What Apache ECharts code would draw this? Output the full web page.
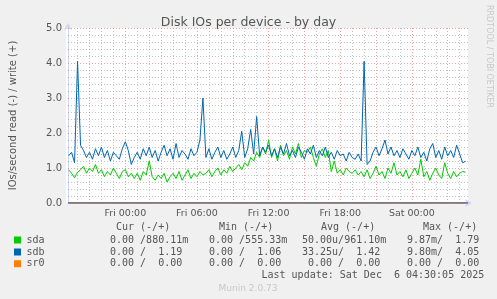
<!DOCTYPE html>
<html><head><meta charset="utf-8">
<script src="https://cdn.jsdelivr.net/npm/echarts@6/dist/echarts.min.js"></script>
<style>html,body{margin:0;padding:0;background:#f0f0f0}#c{width:497px;height:299px}</style>
</head><body><div id="c"></div>
<script>
// time axis: hours relative to Fri 00:00, 15-minute samples
const startHour = -4.75;
const stepHour = 0.25;
const xTickValues = [0, 6, 12, 18, 24];
const xTickLabels = ['Fri 00:00', 'Fri 06:00', 'Fri 12:00', 'Fri 18:00', 'Sat 00:00'];
const yTickValues = [0, 1, 2, 3, 4, 5];

// sdb write IOs/s
const sdbWrite = [
 1.35,1.45,1.15,4.05,1.65,1.5,1.3,1.45,1.25,1.55,1.35,
 1.6,1.3,1.5,1.2,1.45,1.35,1.25,1.55,1.75,1.5,1.1,
 1.3,1.45,1.25,1.55,1.35,1.6,1.3,1.5,1.2,1.45,1.65,
 1.35,1.55,1.25,1.7,1.3,1.5,1.4,1.25,1.55,1.35,1.45,1.8,
 3.0,
 1.3,1.55,1.25,1.45,1.6,1.3,1.5,1.25,1.4,1.6,1.3,1.5,
 2.05,1.3,1.55,2.1,1.4,2.47,1.35,1.6,
 1.45,1.65,1.35,1.55,1.3,1.6,1.4,1.7,1.35,1.5,1.3,1.6,1.45,1.25,1.55,
 1.4,1.65,1.3,1.5,1.35,1.6,1.3,1.45,1.25,1.5,1.35,1.4,1.2,1.45,1.3,1.25,1.4,1.2,
 4.05,
 1.1,1.2,1.45,1.6,1.35,1.55,1.8,1.4,1.6,
 1.35,1.5,1.3,1.55,1.4,1.25,1.5,1.35,1.6,1.3,1.45,1.2,1.55,1.7,1.3,1.5,1.25,1.6,1.35,1.5,1.3,1.65,1.4,1.15,1.19
];
// sda write IOs/s
const sdaWrite = [
 0.95,0.85,0.72,0.88,0.95,1.05,0.85,1.0,0.9,1.1,0.85,
 0.95,0.75,0.9,0.8,1.0,0.85,0.7,0.9,0.95,0.75,0.85,
 0.7,0.85,0.65,0.9,0.8,1.2,0.75,0.65,0.8,0.7,0.85,
 0.6,0.75,0.85,0.7,0.9,0.65,0.8,0.95,0.7,0.85,0.75,0.9,0.8,
 0.85,0.95,0.75,0.9,1.0,0.8,0.95,0.85,1.05,0.9,1.0,1.1,0.95,
 1.15,1.05,1.3,1.2,1.45,1.3,1.6,
 1.4,1.79,1.3,1.55,1.2,1.65,1.35,1.5,1.25,1.6,1.4,1.7,1.3,1.5,1.45,1.6,1.3,1.05,1.4,1.55,1.3,1.5,0.9,
 1.2,0.85,0.95,0.8,1.0,0.9,0.85,0.95,0.8,0.9,
 0.75,0.95,0.7,0.85,1.05,0.8,0.9,0.7,1.0,0.85,
 1.15,0.8,0.9,0.75,0.95,0.7,0.85,1.0,0.8,1.25,0.75,0.9,0.65,0.85,1.0,0.8,0.7,1.15,0.85,0.7,0.9,0.75,0.85,0.9,0.88
];
// sr0 write IOs/s
const sr0Write = sdaWrite.map(() => 0);

const legendRows = [
  {name: 'sda', color: '#00cc00', cur: '0.00 /880.11m', min: '0.00 /555.33m', avg: '50.00u/961.10m', max: '9.87m/  1.79'},
  {name: 'sdb', color: '#0066b3', cur: '0.00 /  1.19', min: '0.00 /  1.06', avg: '33.25u/  1.42', max: '9.80m/  4.05'},
  {name: 'sr0', color: '#ff8000', cur: '0.00 /  0.00', min: '0.00 /  0.00', avg: '0.00 /  0.00', max: '0.00 /  0.00'}
];
const headers = ['Cur (-/+)', 'Min (-/+)', 'Avg (-/+)', 'Max (-/+)'];

const times = sdaWrite.map((_, i) => startHour + i * stepHour);
const pairs = arr => arr.map((v, i) => [times[i], v]);

// grid lines
const xMin = -4.8, xMax = 28.7;
const MAJOR = 'rgba(230,100,100,0.6)';
const MINOR = 'rgba(140,140,140,0.5)';
const gridLines = [];
for (let h = -4; h <= 28; h++) {
  const major = ((h % 3) + 3) % 3 === 0;
  gridLines.push({xAxis: h, lineStyle: {color: major ? MAJOR : MINOR, type: [1, 2], width: 1}});
}
for (let k = 1; k <= 25; k++) {
  const v = k * 0.2;
  const major = k % 5 === 0;
  gridLines.push({yAxis: +v.toFixed(1), lineStyle: {color: major ? MAJOR : MINOR, type: [1, 2], width: 1}});
}

const SANS = '"DejaVu Sans", sans-serif';
const MONO = '"DejaVu Sans Mono", monospace';
const mono = '10px ' + MONO;

const graphics = [];
const headerX = [116, 219, 321, 423];
headers.forEach((h, i) => graphics.push({type: 'text', x: headerX[i], y: 227.5, style: {text: h, font: mono, fill: '#555', verticalAlign: 'middle'}}));
const rowY = [240, 252, 263.7];
const colX = {cur: [110,110,110], min: [209,209,209], avg: [302,302,308], max: [407,407,407]};
legendRows.forEach((r, i) => {
  graphics.push({type: 'rect', shape: {x: 14, y: rowY[i] - 3.5, width: 7, height: 7}, style: {fill: r.color}});
  graphics.push({type: 'text', x: 26.5, y: rowY[i], style: {text: r.name, font: mono, fill: '#555', verticalAlign: 'middle'}});
  ['cur','min','avg','max'].forEach(k => graphics.push({type: 'text', x: colX[k][i], y: rowY[i], style: {text: r[k], font: mono, fill: '#555', verticalAlign: 'middle'}}));
});
graphics.push({type: 'text', x: 261.5, y: 275.5, style: {text: 'Last update: Sat Dec  6 04:30:05 2025', font: mono, fill: '#555', verticalAlign: 'middle'}});
graphics.push({type: 'text', x: 248, y: 288.5, style: {text: 'Munin 2.0.73', font: '9px ' + SANS, fill: '#c8c8c8', align: 'center', verticalAlign: 'middle'}});
graphics.push({type: 'text', x: 489, y: 5, rotation: -Math.PI / 2, style: {text: 'RRDTOOL / TOBI OETIKER', font: '8px ' + SANS, fill: '#c8c8c8', align: 'left', verticalAlign: 'middle'}});
// canvas (white plot background)
graphics.push({type: 'rect', z: -10, shape: {x: 66, y: 28, width: 402, height: 175}, style: {fill: '#ffffff'}, silent: true});

const chart = echarts.init(document.getElementById('c'), null, {renderer: 'canvas'});
chart.setOption({
  backgroundColor: '#f0f0f0',
  animation: false,
  title: {text: 'Disk IOs per device - by day', left: 'center', top: 11, textStyle: {fontFamily: SANS, fontSize: 12.5, fontWeight: 'normal', color: '#555'}},
  grid: {left: 66, right: 29, top: 28, bottom: 96, containLabel: false},
  xAxis: {
    type: 'value', min: xMin, max: xMax,
    axisLine: {show: true, onZero: false, lineStyle: {color: '#cfd6f8', width: 1}, symbol: ['none', 'arrow'], symbolSize: [6, 7], symbolOffset: [0, 4]},
    axisTick: {show: false},
    splitLine: {show: false},
    axisLabel: {customValues: xTickValues, formatter: v => xTickLabels[xTickValues.indexOf(v)] || '', fontFamily: SANS, fontSize: 9.5, color: '#555', margin: 6}
  },
  yAxis: {
    type: 'value', min: 0, max: 5, interval: 1,
    name: 'IOs/second read (-) / write (+)', nameLocation: 'middle', nameGap: 50, nameRotate: 90,
    nameTextStyle: {fontFamily: SANS, fontSize: 10, color: '#555'},
    axisLine: {show: true, onZero: false, lineStyle: {color: '#cfd6f8', width: 1}, symbol: ['none', 'arrow'], symbolSize: [6, 7], symbolOffset: [0, 5]},
    axisTick: {show: false},
    splitLine: {show: false},
    axisLabel: {formatter: v => yTickValues.includes(v) ? v.toFixed(1) : '', fontFamily: SANS, fontSize: 10, color: '#555', margin: 6}
  },
  graphic: graphics,
  series: [
    {type: 'line', name: 'grid', data: [], z: 1, silent: true,
     markLine: {z: 1, silent: true, symbol: ['none','none'], label: {show: false}, animation: false, data: gridLines}},
    {type: 'line', name: 'sr0', data: pairs(sr0Write), showSymbol: false, z: 2, lineStyle: {color: '#ff8000', width: 1}, itemStyle: {color: '#ff8000'}},
    {type: 'line', name: 'sda', data: pairs(sdaWrite), showSymbol: false, z: 3, lineStyle: {color: '#00cc00', width: 1}, itemStyle: {color: '#00cc00'}},
    {type: 'line', name: 'sdb', data: pairs(sdbWrite), showSymbol: false, z: 4, lineStyle: {color: '#0066b3', width: 1}, itemStyle: {color: '#0066b3'}},
    {type: 'line', name: 'zero', data: [[xMin, 0], [xMax, 0]], z: 10, silent: true, showSymbol: false,
     lineStyle: {color: '#5c5c7a', width: 1.5}}
  ]
});
</script></body></html>
